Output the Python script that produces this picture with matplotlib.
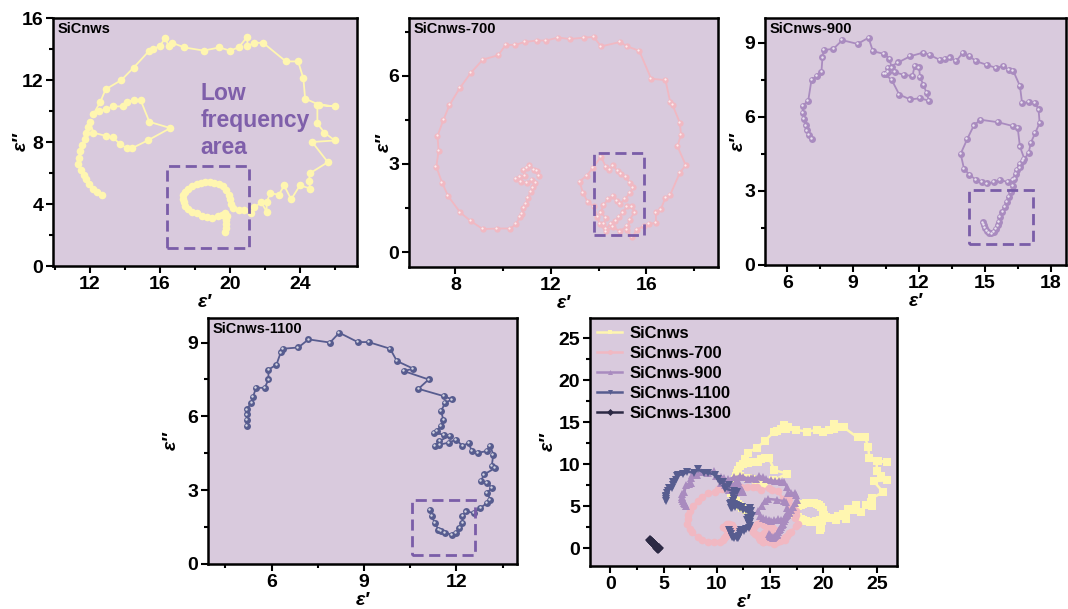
import matplotlib
matplotlib.use("Agg")
import matplotlib.pyplot as plt
from matplotlib.patches import Rectangle
from matplotlib.ticker import MultipleLocator, AutoMinorLocator
import matplotlib.transforms as mtransforms

plt.rcParams['font.family'] = ['Liberation Sans', 'DejaVu Sans']
plt.rcParams['font.weight'] = 'bold'

# Cole-Cole curves (eps', eps'') for each sample
sic_re = [12.7, 12.4, 12.15, 11.95, 11.8, 11.65, 11.5, 11.3, 11.35, 11.45, 11.55, 11.7, 11.8, 11.9, 12.0,
          12.2, 12.9, 13.3, 13.7, 14.1, 14.4, 15.3, 16.6, 15.4, 14.9, 14.5, 14.1, 13.9, 13.3, 12.9, 12.5, 12.2,
          12.6, 12.9, 13.8, 14.5, 15.4, 15.6, 16.0, 16.3, 16.5, 16.7, 17.4, 18.5, 19.4, 20.0, 20.5, 21.0, 21.0,
          21.4, 21.9, 23.2, 23.9, 24.2, 24.3, 25.1, 26.0, 25.0, 25.0, 25.4, 26.0, 24.7, 25.6, 24.6, 24.5, 24.6,
          24.0, 23.5, 23.1, 22.8, 22.3, 22.1, 22.1, 21.8, 21.4, 21.2,
          20.8, 20.5, 20.2, 20.05, 20.0, 19.95, 19.8, 19.6, 19.35, 19.1, 18.85, 18.6, 18.35, 18.1, 17.85, 17.6,
          17.45, 17.3, 17.3, 17.35, 17.45, 17.6, 17.85, 18.1, 18.4, 18.7, 19.0, 19.3, 19.55, 19.7, 19.85, 19.8,
          19.8, 19.75, 19.7]
sic_im = [4.6, 4.8, 5.0, 5.3, 5.6, 5.9, 6.2, 6.6, 7.0, 7.4, 7.8, 8.2, 8.6, 9.0, 9.3,
          8.6, 8.4, 8.3, 7.9, 7.6, 7.6, 8.1, 8.9, 9.3, 10.7, 10.7, 10.6, 10.3, 10.3, 10.1, 10.0, 9.8,
          10.6, 11.4, 12.0, 12.8, 13.9, 14.0, 14.2, 14.7, 14.2, 14.4, 14.1, 13.9, 14.1, 13.9, 14.1, 14.8, 14.2,
          14.4, 14.4, 13.2, 13.2, 12.1, 10.8, 10.4, 10.3, 10.4, 9.2, 8.6, 8.1, 8.0, 6.7, 6.0, 5.5, 5.0,
          5.2, 4.3, 5.2, 4.6, 4.7, 4.1, 3.5, 4.1, 3.8, 3.4,
          3.6, 3.6, 3.75, 4.0, 4.3, 4.6, 4.9, 5.15, 5.3, 5.35, 5.4, 5.4, 5.35, 5.3, 5.15, 5.0,
          4.8, 4.6, 4.35, 4.1, 3.9, 3.7, 3.5, 3.4, 3.25, 3.15, 3.1, 3.2, 3.3, 3.4, 3.2, 2.95,
          2.7, 2.45, 2.2]

s700_re = [11.4, 11.5, 11.3, 11.1, 11.0, 10.85, 10.9, 10.7, 10.55, 10.75, 11.0, 11.2, 11.35, 11.25, 11.15,
           11.05, 10.95, 10.85, 10.8, 10.7, 10.55, 10.3, 9.75, 9.15, 8.65, 8.2, 7.7, 7.45, 7.2, 7.3, 7.25,
           7.5, 7.75, 8.2, 8.65, 9.15, 9.8, 10.1, 10.5, 10.9, 11.4, 11.8, 12.3, 12.8, 13.4, 13.8, 14.1, 14.9,
           15.2, 15.7, 16.2, 16.8, 17.0, 17.1, 17.4, 17.45, 17.3, 17.65, 17.4, 17.0, 16.8, 16.6, 16.4, 16.4,
           16.1, 15.9, 15.6, 15.4, 15.2, 15.3, 15.5, 15.4, 15.2, 15.0, 14.85, 14.7, 14.5, 14.3, 14.2, 14.3,
           14.1, 14.2, 14.4, 14.6, 14.75, 14.9, 15.1, 15.3, 15.45, 15.3, 15.15, 14.95, 14.8, 14.6, 14.45, 14.3,
           14.1, 13.75, 13.5, 13.2, 13.35, 13.55, 13.8, 13.95, 14.05, 14.3, 14.6, 14.9, 15.2]
s700_im = [2.75, 2.6, 2.8, 2.95, 2.85, 2.8, 2.6, 2.55, 2.5, 2.4, 2.35, 2.45, 2.35, 2.2, 2.05,
           1.85, 1.65, 1.5, 1.3, 1.2, 0.95, 0.8, 0.8, 0.78, 1.05, 1.35, 1.9, 2.35, 2.9, 3.45, 3.95,
           4.5, 5.0, 5.6, 6.1, 6.55, 6.7, 7.05, 7.05, 7.15, 7.2, 7.2, 7.3, 7.25, 7.3, 7.32, 7.0, 7.15,
           7.0, 6.85, 5.9, 5.85, 5.1, 5.0, 4.4, 4.0, 3.6, 2.95, 2.7, 1.95, 1.85, 1.45, 1.35, 1.0,
           0.95, 0.9, 0.75, 0.5, 0.75, 1.1, 1.35, 1.55, 1.55, 1.35, 1.2, 1.05, 0.95, 0.8, 0.95, 1.15,
           1.35, 1.6, 1.8, 1.9, 1.75, 1.65, 1.8, 2.0, 2.2, 2.35, 2.55, 2.65, 2.75, 2.95, 2.8, 2.9,
           3.25, 2.85, 2.6, 2.4, 2.0, 1.7, 1.55, 1.2, 0.95, 0.7, 0.85, 0.7, 0.9]

s900_re = [7.1, 7.0, 6.9, 6.85, 6.75, 6.7, 6.7, 6.95, 7.1, 7.35, 7.55, 7.6, 7.65, 8.1, 8.5, 9.2, 9.7, 9.9,
           10.4, 10.65, 10.75, 10.6, 10.4, 10.75, 11.1, 11.6, 12.05, 12.45, 12.35, 12.2, 12.05, 12.0, 11.8,
           11.7, 11.3, 10.9, 10.5, 10.6, 11.05, 11.6, 12.2, 12.5, 12.95, 13.2, 13.4, 13.7, 14.0, 14.3, 14.6,
           15.1, 15.5, 15.85, 16.1, 16.3, 16.6, 16.7, 17.0, 17.3, 17.45, 17.5, 17.3, 17.1, 17.0, 16.75, 16.6,
           16.4, 16.3, 16.05, 15.7, 15.4, 15.1, 14.85, 14.6, 14.3, 14.05, 13.9, 14.2, 14.5, 14.8, 15.6, 16.3,
           16.5, 16.6, 16.8, 16.6, 16.45, 16.35, 16.3, 16.2, 16.1, 16.0, 15.9, 15.8, 15.7, 15.65, 15.6, 15.5,
           15.4, 15.3, 15.2, 15.1, 15.0, 14.95, 14.9]
s900_im = [5.1, 5.25, 5.45, 5.65, 5.9, 6.15, 6.45, 6.65, 7.5, 7.65, 7.8, 8.4, 8.7, 8.75, 9.1, 8.95, 9.2, 8.65,
           8.55, 8.35, 8.0, 7.8, 7.75, 7.5, 6.9, 6.7, 6.75, 6.65, 6.95, 7.3, 7.6, 8.0, 8.05,
           7.65, 7.7, 7.8, 7.75, 7.98, 8.2, 8.45, 8.6, 8.5, 8.3, 8.35, 8.4, 8.25, 8.6, 8.45, 8.25,
           8.1, 7.98, 8.05, 7.9, 7.85, 7.25, 6.55, 6.6, 6.55, 6.3, 5.75, 5.35, 4.95, 4.55, 4.2, 3.95,
           3.7, 3.45, 3.35, 3.45, 3.35, 3.3, 3.35, 3.45, 3.65, 3.9, 4.5, 5.1, 5.65, 5.88, 5.78, 5.62,
           5.55, 4.8, 4.3, 4.1, 3.85, 3.5, 3.2, 2.95, 2.75, 2.55, 2.35, 2.15, 1.95, 1.75, 1.6, 1.45,
           1.35, 1.28, 1.3, 1.38, 1.5, 1.62, 1.72]

s1100_re = [5.19, 5.19, 5.21, 5.19, 5.35, 5.4, 5.5, 5.78, 5.9, 5.9, 6.16, 6.3, 6.38, 6.87, 7.2, 7.9, 8.2, 8.8,
            9.15, 9.85, 10.07, 10.6, 10.3, 11.1, 10.77, 11.6, 11.86, 11.64, 11.5, 11.58, 11.5, 11.37, 11.26,
            11.6, 11.8, 11.45, 11.3, 11.45, 11.75, 12.0, 12.2, 12.4, 12.5, 12.7, 13.0, 13.1, 13.2, 13.15, 13.26,
            12.9, 12.8, 13.0, 13.15, 13.0, 13.1, 13.0, 12.78, 12.56, 12.3, 12.2, 12.2, 12.1, 12.0, 11.86, 11.64,
            11.5, 11.42, 11.3, 11.2, 11.13]
s1100_im = [5.6, 5.87, 6.08, 6.28, 6.55, 6.8, 7.16, 7.16, 7.5, 7.9, 8.1, 8.6, 8.75, 8.8, 9.13, 9.0, 9.4, 9.02,
            9.02, 8.75, 8.25, 7.94, 7.84, 7.5, 7.12, 6.82, 6.69, 6.55, 6.21, 5.87, 5.6, 5.4, 5.33,
            5.26, 5.22, 5.0, 4.79, 4.85, 4.93, 5.06, 4.79, 4.93, 4.59, 4.52, 4.59, 4.79, 4.45, 3.98, 3.9,
            3.64, 3.37, 3.3, 3.1, 2.89, 2.62, 2.48, 2.28, 2.08, 2.14, 1.94, 1.67, 1.45, 1.26, 1.19, 1.26,
            1.35, 1.4, 1.67, 1.95, 2.21]

s1300_re = [3.7, 3.8, 3.9, 4.0, 4.1, 4.2, 4.3, 4.4, 4.5, 4.55, 4.45, 4.35]
s1300_im = [0.95, 0.85, 0.7, 0.6, 0.5, 0.4, 0.3, 0.2, 0.1, 0.0, -0.05, 0.1]

names = ['SiCnws', 'SiCnws-700', 'SiCnws-900', 'SiCnws-1100', 'SiCnws-1300']
colors = ['#FFF6B0', '#F1B8C2', '#A98BBF', '#575C8F', '#2C2944']
face = '#D9CADD'
box_color = '#7A5DA8'

fig = plt.figure(figsize=(10.68, 6.09), dpi=100)


def style_axes(ax, xlim, ylim, xmajor, ymajor, ylab_x):
    ax.set_facecolor(face)
    ax.set_xlim(*xlim)
    ax.set_ylim(*ylim)
    ax.xaxis.set_major_locator(MultipleLocator(xmajor))
    ax.yaxis.set_major_locator(MultipleLocator(ymajor))
    ax.xaxis.set_minor_locator(AutoMinorLocator(2))
    ax.yaxis.set_minor_locator(AutoMinorLocator(2))
    ax.tick_params(which='both', direction='out', width=1.5, top=False, right=False,
                   labelsize=14)
    ax.tick_params(which='major', length=5, pad=2)
    ax.tick_params(which='minor', length=3)
    for s in ax.spines.values():
        s.set_linewidth(1.8)
    ax.set_xlabel("ε′", fontsize=14, fontstyle='italic', fontweight='bold', labelpad=1)
    ax.set_ylabel("ε″", fontsize=14, fontstyle='italic', fontweight='bold')
    ax.yaxis.set_label_coords(ylab_x, 0.5)


def draw_curve(ax, x, y, color, ms, shine=True):
    ax.plot(x, y, '-o', color=color, lw=1.3, ms=ms, mec=color, mew=0)
    if shine:
        tr = mtransforms.offset_copy(ax.transData, fig=fig, x=-0.6, y=0.6, units='points')
        ax.plot(x, y, 'o', color='white', alpha=0.75, ms=ms * 0.35, mew=0, transform=tr)


def dashed_box(ax, x0, y0, x1, y1):
    ax.add_patch(Rectangle((x0, y0), x1 - x0, y1 - y0, fill=False, ec=box_color,
                           lw=2, ls=(0, (4, 2)), zorder=5))


def title(ax, text):
    ax.text(0.015, 0.985, text, transform=ax.transAxes, ha='left', va='top',
            fontsize=10.5, fontweight='bold')


# SiCnws
ax1 = fig.add_axes([0.0496, 0.5632, 0.2846, 0.4072])
style_axes(ax1, (9.89, 27.26), (0, 16), 4, 4, -0.076)
draw_curve(ax1, sic_re, sic_im, colors[0], 5.5, shine=False)
dashed_box(ax1, 16.4, 1.19, 21.1, 6.47)
ax1.text(18.3, 11.85, "Low\nfrequency\narea", color='#7F5FAA', fontsize=16.5,
         fontweight='bold', ha='left', va='top', linespacing=1.22)
title(ax1, names[0])

# SiCnws-700
ax2 = fig.add_axes([0.383, 0.5616, 0.2893, 0.409])
style_axes(ax2, (6.06, 19.0), (-0.51, 7.97), 4, 3, -0.052)
draw_curve(ax2, s700_re, s700_im, colors[1], 4.5)
dashed_box(ax2, 13.81, 0.59, 15.89, 3.38)
title(ax2, names[1])

# SiCnws-900
ax3 = fig.add_axes([0.7163, 0.5649, 0.2818, 0.4056])
style_axes(ax3, (4.98, 18.7), (0, 10), 3, 3, -0.06)
draw_curve(ax3, s900_re, s900_im, colors[2], 5)
dashed_box(ax3, 14.3, 0.84, 17.19, 3.04)
title(ax3, names[2])

# SiCnws-1100
ax4 = fig.add_axes([0.1948, 0.0739, 0.2893, 0.404])
style_axes(ax4, (3.94, 13.97), (0, 10), 3, 3, -0.09)
draw_curve(ax4, s1100_re, s1100_im, colors[3], 5)
dashed_box(ax4, 10.56, 0.38, 12.62, 2.62)
title(ax4, names[3])

# all samples together
ax5 = fig.add_axes([0.5524, 0.0706, 0.2875, 0.407])
style_axes(ax5, (-1.9, 26.9), (-2.1, 27.4), 5, 5, -0.107)
series = [(sic_re, sic_im, 's'), (s700_re, s700_im, 'o'), (s900_re, s900_im, '^'),
          (s1100_re, s1100_im, 'v'), (s1300_re, s1300_im, 'D')]
for (x, y, m), c, n in zip(series, colors, names):
    ax5.plot(x, y, '-', marker=m, color=c, lw=1.8, ms=5.5, mew=0, label=n)
ax5.legend(loc='upper left', frameon=False, fontsize=12, handlelength=1.5,
           borderaxespad=0.15, labelspacing=0.3, handletextpad=0.45, markerscale=0.65,
           borderpad=0.3)

fig.savefig("out.png", dpi=100)
